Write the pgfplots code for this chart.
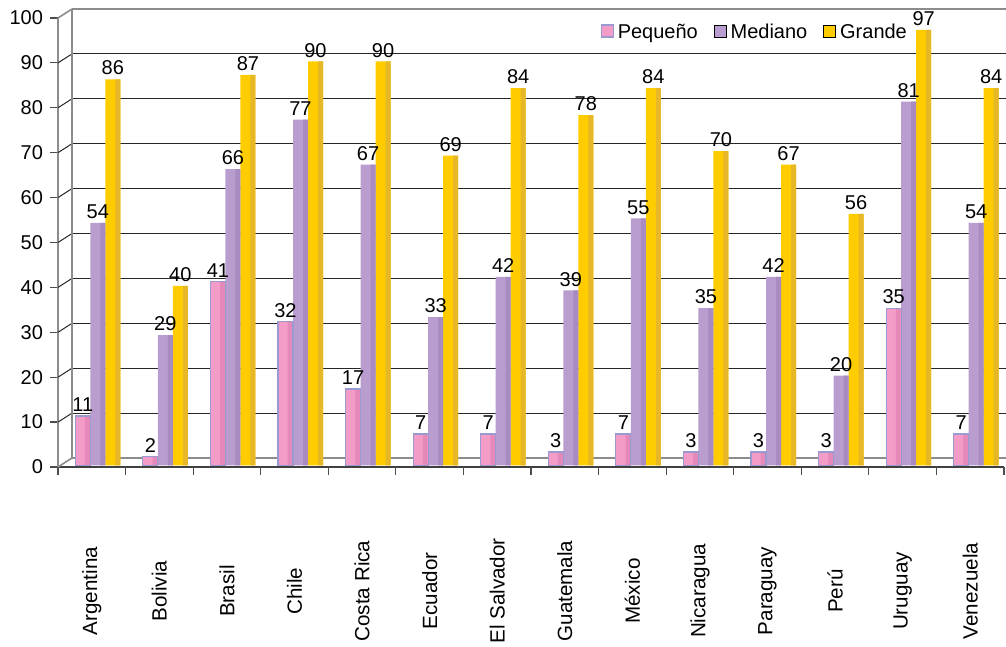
\documentclass[border=0pt]{standalone}
\usepackage{pgfplots}
\pgfplotsset{compat=1.18}
\usepackage{fontspec}
\setmainfont{Liberation Sans}
\definecolor{pq}{HTML}{F39CC8}
\definecolor{pqd}{HTML}{E588BA}
\definecolor{pqe}{HTML}{9A9AD0}
\definecolor{md}{HTML}{B99DCE}
\definecolor{mdd}{HTML}{A78BC1}
\definecolor{gr}{HTML}{FFCC00}
\definecolor{grd}{HTML}{E6B828}
\definecolor{fr}{HTML}{8C8C8C}
\pgfplotstableread{
x peq med gra
0 11 54 86
1 2 29 40
2 41 66 87
3 32 77 90
4 17 67 90
5 7 33 69
6 7 42 84
7 3 39 78
8 7 55 84
9 3 35 70
10 3 42 67
11 3 20 56
12 35 81 97
13 7 54 84
}\datatable
\begin{document}
\begin{tikzpicture}
\useasboundingbox (0,0) rectangle (503pt,323.5pt);
\begin{axis}[
  at={(29pt,90pt)}, anchor=south west, scale only axis,
  width=473pt, height=224.5pt,
  xmin=-0.5, xmax=13.5, ymin=0, ymax=100,
  axis lines=left, axis line style={-},
  x axis line style={black!75, line width=0.6pt},
  y axis line style={fr, line width=0.8pt},
  ytick={0,10,...,100},
  xtick={0,...,13},
  xticklabels={Argentina,Bolivia,Brasil,Chile,Costa Rica,Ecuador,El Salvador,Guatemala,México,Nicaragua,Paraguay,Perú,Uruguay,Venezuela},
  major x tick style={draw=none},
  extra x ticks={-0.5,0.5,...,13.5},
  extra x tick labels={},
  extra x tick style={major x tick style={draw=black!70, line width=0.6pt}},
  tick align=outside, major tick length=4pt,
  major y tick style={draw=black!70, line width=0.6pt},
  tick label style={font=\fontsize{10}{12}\selectfont, text=black},
  xticklabel style={yshift=-58pt, rotate=90, anchor=center, font=\fontsize{10.3}{12}\selectfont},
  /pgf/number format/assume math mode=true,
  ybar=0pt, bar width=7.5pt,
  every node near coord/.append style={font=\fontsize{10}{12}\selectfont, text=black, yshift=-1.5pt},
  legend columns=-1,
  legend style={at={(rel axis cs:0.571,1.01)}, anchor=north west, draw=none, fill=white,
    font=\fontsize{10}{12}\selectfont, inner xsep=1pt, inner ysep=3pt,
    /tikz/every even column/.append style={column sep=6pt}},
  legend image code/.code={\draw[#1] (0pt,-3pt) rectangle (6pt,3pt);},
  clip=false,
]
% back wall and floor
\pgfplotsinvokeforeach{10,20,...,90}{
  \draw[black!85, line width=0.5pt] ([xshift=7pt,yshift=4.5pt]axis cs:-0.5,#1) -- ([xshift=7pt,yshift=4.5pt]axis cs:13.5,#1);
  \draw[black!85, line width=0.5pt] (axis cs:-0.5,#1) -- ([xshift=7pt,yshift=4.5pt]axis cs:-0.5,#1);
}
\draw[fr, line width=1.2pt] ([xshift=7pt,yshift=4.5pt]axis cs:-0.5,0) -- ([xshift=7pt,yshift=4.5pt]axis cs:13.5,0);
\draw[fr, line width=0.8pt] ([xshift=7pt,yshift=4.5pt]axis cs:-0.5,100) -- ([xshift=7pt,yshift=4.5pt]axis cs:13.5,100);
\draw[fr, line width=0.8pt] ([xshift=7pt,yshift=4.5pt]axis cs:-0.5,0) -- ([xshift=7pt,yshift=4.5pt]axis cs:-0.5,100);
\draw[fr, line width=0.8pt] (axis cs:-0.5,100) -- ([xshift=7pt,yshift=4.5pt]axis cs:-0.5,100);
\draw[fr, line width=0.8pt] (axis cs:-0.5,0) -- ([xshift=7pt,yshift=4.5pt]axis cs:-0.5,0);

% main bars
\addplot[yshift=0.8pt, bar shift=-4.5pt, draw=pqe, line width=0.6pt, fill=pq, nodes near coords] table[x=x,y=peq] \datatable;
\addplot[yshift=0.8pt, bar shift=3pt, draw=none, fill=md, nodes near coords] table[x=x,y=med] \datatable;
\addplot[yshift=0.8pt, bar shift=10.5pt, draw=none, fill=gr, nodes near coords] table[x=x,y=gra] \datatable;
% darker right faces
\addplot[yshift=0.8pt, forget plot, bar shift=-2.2pt, bar width=2.4pt, draw=none, fill=pqd] table[x=x,y=peq] \datatable;
\addplot[yshift=0.8pt, forget plot, bar shift=-4.5pt, draw=pqe, line width=0.6pt, fill=none] table[x=x,y=peq] \datatable;
\addplot[yshift=0.8pt, forget plot, bar shift=5.5pt, bar width=2.5pt, draw=none, fill=mdd] table[x=x,y=med] \datatable;
\addplot[yshift=0.8pt, forget plot, bar shift=13pt, bar width=2.5pt, draw=none, fill=grd] table[x=x,y=gra] \datatable;
\legend{Pequeño,Mediano,Grande}
\end{axis}
\end{tikzpicture}
\end{document}
